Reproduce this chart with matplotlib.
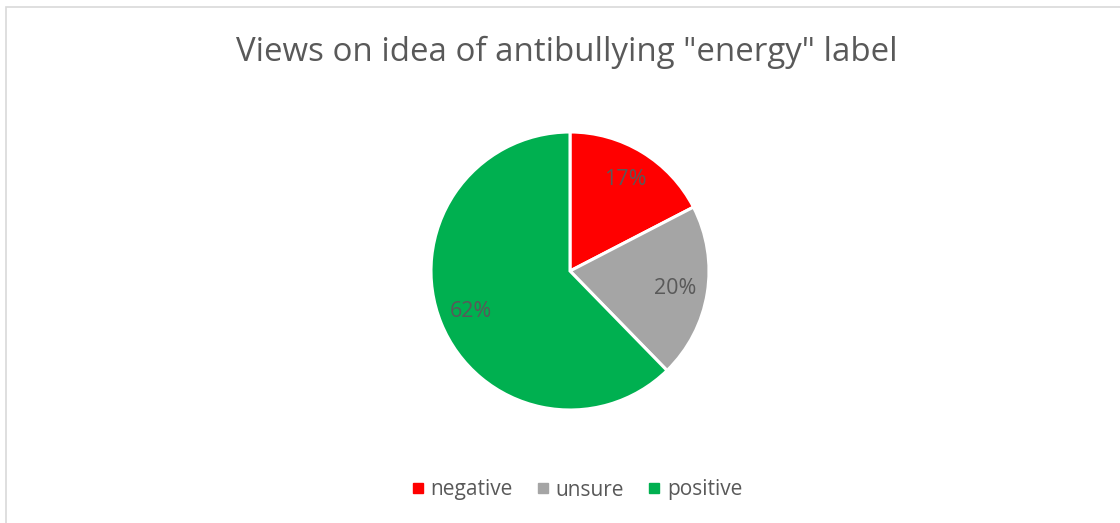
import matplotlib.pyplot as plt
from matplotlib.patches import Rectangle
from matplotlib.lines import Line2D

title = 'Views on idea of antibullying "energy" label'
categories = ['negative', 'unsure', 'positive']
shares = [17.4, 20.3, 62.3]
colors = ['#FF0000', '#A5A5A5', '#00B050']
text_color = '#595959'

plt.rcParams['font.family'] = ['Open Sans', 'DejaVu Sans']

W, H = 1120, 523
fig = plt.figure(figsize=(W / 100, H / 100), dpi=100)

# chart border (gray, runs off the right and bottom edges)
fig.patches.append(Rectangle((6 / W, -0.1), 1.2, (H - 7) / H + 0.1, transform=fig.transFigure,
                             fill=False, edgecolor='#D9D9D9', linewidth=1.2))

cx, cy, r = 570, 271, 139
ax = fig.add_axes([(cx - r) / W, (H - cy - r) / H, 2 * r / W, 2 * r / H])
wedges, texts, autotexts = ax.pie(shares, colors=colors, startangle=90, counterclock=False,
                                  autopct='%.0f%%', pctdistance=0.77,
                                  wedgeprops=dict(edgecolor='white', linewidth=2.2),
                                  textprops=dict(color=text_color, fontsize=15.5))
ax.set_xlim(-1, 1)
ax.set_ylim(-1, 1)
ax.set_aspect('auto')
ax.axis('off')

fig.text(567 / W, 1 - 52 / H, title, ha='center', va='center', fontsize=23.8, color=text_color)

handles = [Line2D([], [], marker='s', linestyle='none', markersize=7, markerfacecolor=c,
                  markeredgecolor=c) for c in colors]
fig.legend(handles, categories, loc='center', bbox_to_anchor=(575 / W, 1 - 490 / H), ncol=3,
           frameon=False, fontsize=15, labelcolor=text_color, handletextpad=0.1,
           columnspacing=0.95, handlelength=1.0)

fig.savefig('out.png', dpi=100, facecolor='white')
